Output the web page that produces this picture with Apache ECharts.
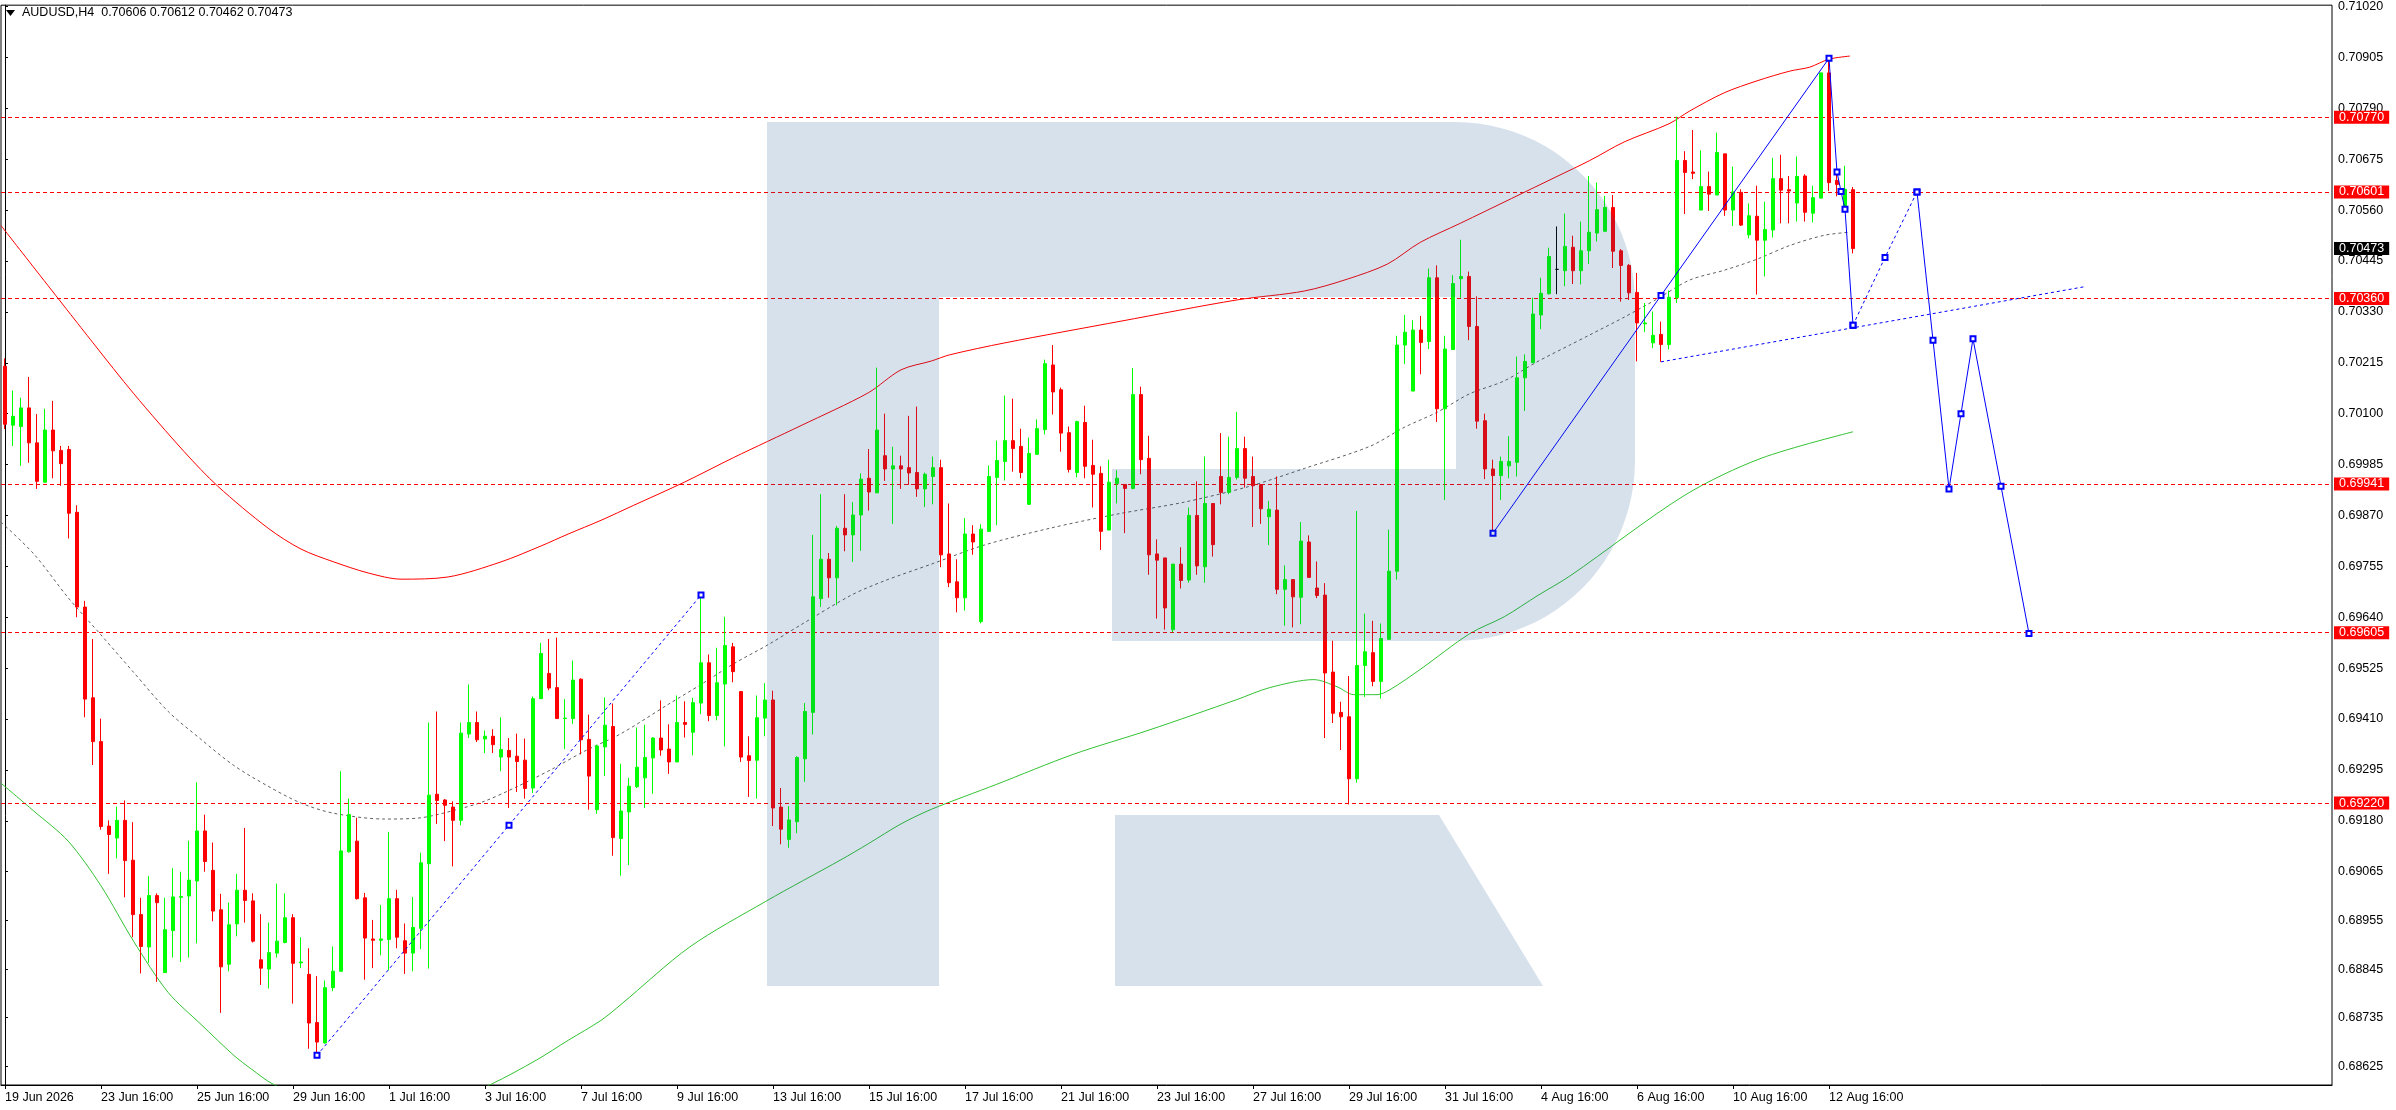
<!DOCTYPE html>
<html><head><meta charset="utf-8">
<script src="https://cdn.jsdelivr.net/npm/echarts@6/dist/echarts.min.js"></script>
<style>html,body{margin:0;padding:0;background:#fff;overflow:hidden}#c{width:2396px;height:1110px}</style>
</head><body><div id="c"></div>
<script>
const FONT = '"Liberation Sans", Arial, sans-serif';
const symbolName = 'AUDUSD,H4';

const open = [
0.70207,0.70074,0.70071,0.70113,0.70034,0.69945,0.70063,0.70017,0.70019,0.69877,
0.69663,0.69458,0.69359,0.69168,0.69141,0.69181,0.69091,0.68968,0.68895,0.69011,
0.68837,0.68932,0.69007,0.69010,0.69044,0.69157,0.69068,0.68979,0.68856,0.68947,
0.69023,0.68999,0.68866,0.68845,0.68881,0.68905,0.68961,0.68859,0.68833,0.68724,
0.68678,0.68803,0.68840,0.69110,0.69134,0.69006,0.68913,0.68910,0.68912,0.69004,
0.68909,0.68881,0.68937,0.69083,0.69240,0.69227,0.69211,0.69181,0.69376,0.69402,
0.69365,0.69371,0.69324,0.69339,0.69326,0.69317,0.69254,0.69456,0.69513,0.69481,
0.69411,0.69411,0.69500,0.69364,0.69205,0.69347,0.69393,0.69140,0.69200,0.69257,
0.69277,0.69322,0.69367,0.69342,0.69313,0.69402,0.69380,0.69446,0.69537,0.69418,
0.69489,0.69573,0.69472,0.69327,0.69317,0.69412,0.69453,0.69211,0.69138,0.69178,
0.69320,0.69425,0.69682,0.69771,0.69729,0.69841,0.69826,0.69871,0.69954,0.69921,
0.70005,0.69975,0.69982,0.69978,0.69967,0.69930,0.69958,0.69978,0.69783,0.69720,
0.69684,0.69828,0.69630,0.69834,0.69956,0.69992,0.70039,0.70026,0.69895,0.70008,
0.70064,0.70210,0.70154,0.70057,0.69967,0.70080,0.69983,0.69965,0.69837,0.69942,
0.69940,0.69931,0.70143,0.69999,0.69783,0.69774,0.69612,0.69760,0.69724,0.69870,
0.69754,0.69897,0.69958,0.69922,0.69956,0.70021,0.69958,0.69940,0.69867,0.69882,
0.69703,0.69725,0.69685,0.69810,0.69706,0.69690,0.69516,0.69425,0.69415,0.69275,
0.69531,0.69560,0.69495,0.69590,0.69744,0.70255,0.70151,0.70289,0.70263,0.70407,
0.70111,0.70245,0.70405,0.70410,0.70297,0.70084,0.69975,0.69960,0.69982,0.69990,
0.70181,0.70215,0.70323,0.70371,0.70426,0.70423,0.70476,0.70423,0.70468,0.70508,
0.70512,0.70566,0.70468,0.70435,0.70374,0.70303,0.70260,0.70279,0.70256,0.70362,
0.70672,0.70646,0.70560,0.70613,0.70594,0.70687,0.70560,0.70600,0.70504,0.70546,
0.70492,0.70515,0.70631,0.70606,0.70576,0.70637,0.70553,0.70587,0.70870,0.70627,
0.70566,0.70606];

const high = [
0.70225,0.70152,0.70136,0.70183,0.70099,0.70111,0.70129,0.70027,0.70027,0.69893,
0.69677,0.69591,0.69411,0.69181,0.69212,0.69226,0.69177,0.69006,0.69055,0.69016,
0.69006,0.69073,0.69065,0.69135,0.69267,0.69194,0.69131,0.69015,0.68995,0.69060,
0.69164,0.69016,0.68969,0.68950,0.69038,0.69016,0.68969,0.68917,0.68892,0.68829,
0.68819,0.68896,0.69292,0.69230,0.69187,0.69017,0.68956,0.68990,0.69155,0.69024,
0.68948,0.69008,0.69108,0.69402,0.69427,0.69229,0.69224,0.69402,0.69488,0.69427,
0.69384,0.69387,0.69414,0.69367,0.69377,0.69366,0.69461,0.69582,0.69591,0.69594,
0.69455,0.69542,0.69502,0.69420,0.69352,0.69459,0.69445,0.69309,0.69277,0.69391,
0.69397,0.69369,0.69452,0.69398,0.69463,0.69450,0.69458,0.69684,0.69556,0.69571,
0.69641,0.69582,0.69472,0.69371,0.69463,0.69491,0.69474,0.69254,0.69213,0.69326,
0.69446,0.69826,0.69918,0.69785,0.69846,0.69918,0.69900,0.69965,0.70020,0.70204,
0.70100,0.70025,0.70005,0.70095,0.70116,0.69967,0.70003,0.69996,0.69897,0.69771,
0.69864,0.69848,0.69850,0.69983,0.70039,0.70141,0.70134,0.70066,0.70046,0.70087,
0.70222,0.70255,0.70159,0.70071,0.70084,0.70118,0.70041,0.69981,0.69996,0.69972,
0.69940,0.70203,0.70161,0.70050,0.69816,0.69774,0.69760,0.69798,0.69888,0.69947,
0.70003,0.69897,0.70056,0.70048,0.70104,0.70048,0.70003,0.69940,0.69903,0.69958,
0.69757,0.69725,0.69855,0.69825,0.69766,0.69717,0.69587,0.69449,0.69507,0.69880,
0.69648,0.69632,0.69626,0.69838,0.70276,0.70323,0.70311,0.70321,0.70428,0.70435,
0.70276,0.70413,0.70493,0.70421,0.70365,0.70100,0.69996,0.70003,0.70049,0.70229,
0.70234,0.70362,0.70407,0.70475,0.70523,0.70552,0.70502,0.70534,0.70637,0.70622,
0.70592,0.70594,0.70472,0.70438,0.70418,0.70350,0.70331,0.70308,0.70378,0.70771,
0.70693,0.70741,0.70695,0.70647,0.70735,0.70687,0.70658,0.70607,0.70575,0.70615,
0.70579,0.70678,0.70685,0.70637,0.70681,0.70641,0.70615,0.70870,0.70903,0.70648,
0.70660,0.70612];

const low = [
0.70065,0.70027,0.69982,0.69989,0.69930,0.69945,0.69954,0.69937,0.69818,0.69640,
0.69414,0.69306,0.69160,0.69060,0.69095,0.69007,0.68917,0.68835,0.68859,0.68816,
0.68837,0.68871,0.68861,0.68871,0.68903,0.69065,0.68953,0.68746,0.68840,0.68919,
0.68950,0.68905,0.68809,0.68801,0.68871,0.68903,0.68767,0.68847,0.68665,0.68646,
0.68677,0.68795,0.68840,0.69108,0.69002,0.68821,0.68847,0.68876,0.68842,0.68892,
0.68834,0.68840,0.68890,0.68846,0.69173,0.69134,0.69077,0.69170,0.69367,0.69358,
0.69333,0.69333,0.69292,0.69209,0.69245,0.69230,0.69243,0.69456,0.69475,0.69411,
0.69342,0.69399,0.69330,0.69205,0.69196,0.69281,0.69101,0.69056,0.69080,0.69254,
0.69209,0.69241,0.69327,0.69286,0.69313,0.69368,0.69328,0.69421,0.69405,0.69407,
0.69348,0.69493,0.69313,0.69234,0.69230,0.69371,0.69168,0.69127,0.69119,0.69152,
0.69268,0.69375,0.69663,0.69684,0.69667,0.69789,0.69765,0.69790,0.69881,0.69921,
0.69948,0.69851,0.69930,0.69939,0.69912,0.69889,0.69895,0.69753,0.69708,0.69651,
0.69655,0.69781,0.69626,0.69834,0.69848,0.69949,0.69969,0.69954,0.69895,0.70008,
0.70053,0.70098,0.70014,0.69967,0.69956,0.69954,0.69888,0.69792,0.69837,0.69897,
0.69830,0.69929,0.69963,0.69736,0.69637,0.69612,0.69606,0.69705,0.69718,0.69736,
0.69718,0.69777,0.69895,0.69918,0.69951,0.69933,0.69844,0.69851,0.69803,0.69692,
0.69621,0.69617,0.69624,0.69730,0.69683,0.69367,0.69401,0.69340,0.69217,0.69266,
0.69460,0.69484,0.69456,0.69590,0.69725,0.70212,0.70151,0.70189,0.70246,0.70081,
0.69905,0.70245,0.70362,0.70266,0.70066,0.69952,0.69830,0.69905,0.69954,0.69958,
0.70106,0.70215,0.70291,0.70369,0.70370,0.70388,0.70393,0.70392,0.70438,0.70489,
0.70512,0.70429,0.70353,0.70357,0.70218,0.70284,0.70248,0.70217,0.70245,0.70350,
0.70551,0.70630,0.70560,0.70558,0.70594,0.70547,0.70524,0.70524,0.70496,0.70369,
0.70410,0.70498,0.70530,0.70530,0.70534,0.70534,0.70532,0.70587,0.70603,0.70591,
0.70566,0.70462];

const close = [
0.70076,0.70094,0.70113,0.70034,0.69947,0.70063,0.70016,0.69987,0.69875,0.69663,
0.69455,0.69359,0.69167,0.69149,0.69181,0.69090,0.68968,0.68896,0.69011,0.68995,
0.68934,0.69008,0.69009,0.69046,0.69157,0.69088,0.68976,0.68850,0.68945,0.69023,
0.69000,0.68908,0.68847,0.68882,0.68908,0.68961,0.68858,0.68861,0.68723,0.68680,
0.68803,0.68840,0.69112,0.69194,0.69004,0.68915,0.68910,0.68913,0.69004,0.68917,
0.68881,0.68939,0.69085,0.69238,0.69226,0.69215,0.69181,0.69378,0.69402,0.69363,
0.69371,0.69352,0.69341,0.69324,0.69314,0.69253,0.69456,0.69558,0.69480,0.69411,
0.69412,0.69498,0.69363,0.69281,0.69349,0.69396,0.69142,0.69202,0.69258,0.69301,
0.69323,0.69367,0.69340,0.69313,0.69402,0.69398,0.69447,0.69537,0.69418,0.69492,
0.69576,0.69517,0.69324,0.69316,0.69413,0.69453,0.69209,0.69161,0.69182,0.69323,
0.69427,0.69686,0.69771,0.69729,0.69841,0.69826,0.69871,0.69952,0.69923,0.70063,
0.69975,0.69982,0.69975,0.69966,0.69930,0.69963,0.69978,0.69781,0.69718,0.69684,
0.69828,0.69810,0.69839,0.69958,0.69994,0.70039,0.70021,0.69967,0.70010,0.70066,
0.70213,0.70149,0.70056,0.69974,0.70082,0.69981,0.69963,0.69834,0.69945,0.69954,
0.69931,0.70143,0.69996,0.69781,0.69769,0.69661,0.69760,0.69723,0.69870,0.69756,
0.69897,0.69804,0.69922,0.69956,0.70021,0.69954,0.69937,0.69885,0.69884,0.69703,
0.69725,0.69686,0.69812,0.69730,0.69689,0.69514,0.69423,0.69415,0.69275,0.69531,
0.69562,0.69495,0.69592,0.69744,0.70255,0.70284,0.70289,0.70261,0.70407,0.70111,
0.70246,0.70394,0.70410,0.70297,0.70083,0.69975,0.69960,0.69992,0.69992,0.70181,
0.70218,0.70325,0.70372,0.70455,0.70426,0.70478,0.70423,0.70468,0.70510,0.70561,
0.70566,0.70467,0.70435,0.70373,0.70305,0.70305,0.70277,0.70256,0.70363,0.70672,
0.70645,0.70643,0.70613,0.70596,0.70690,0.70560,0.70601,0.70526,0.70547,0.70492,
0.70516,0.70631,0.70605,0.70603,0.70636,0.70555,0.70588,0.70870,0.70622,0.70618,
0.70607,0.70473];

// indicator curves: [bar index, price]
const upperBand = [[-0.5,0.70525],[11,0.70260],[16.1,0.70145],[22.4,0.70014],[26.6,0.69936],[32.9,0.69841],[37,0.69794],[41.1,0.69765],[45.4,0.69740],[49.5,0.69726],[55.4,0.69731],[62,0.69765],[67,0.69801],[70.4,0.69828],[74.5,0.69859],[78.6,0.69893],[84.9,0.69945],[91.1,0.70001],[99.5,0.70073],[107.9,0.70147],[112,0.70199],[115.8,0.70219],[118.1,0.70233],[125,0.70260],[139.5,0.70309],[154,0.70357],[162.4,0.70377],[167.8,0.70404],[172.8,0.70438],[176.9,0.70487],[181.9,0.70530],[188.3,0.70586],[194,0.70636],[198.1,0.70672],[202.4,0.70714],[208,0.70755],[210.6,0.70784],[214.9,0.70825],[219,0.70852],[223.1,0.70874],[225.6,0.70883],[228,0.70901],[230.6,0.70908]];
const middleBand = [[-0.5,0.69855],[3.6,0.69783],[7.9,0.69684],[12,0.69600],[16.1,0.69515],[20.4,0.69427],[24.5,0.69364],[28.6,0.69305],[32.9,0.69258],[37,0.69220],[41.1,0.69197],[47.4,0.69184],[51.6,0.69186],[55.8,0.69202],[59.9,0.69224],[64.1,0.69258],[68.3,0.69296],[72.4,0.69337],[77,0.69377],[82.9,0.69443],[87,0.69488],[91.1,0.69535],[95.4,0.69578],[99.5,0.69623],[105.8,0.69690],[109.9,0.69722],[115.8,0.69760],[122.4,0.69803],[130.6,0.69841],[139,0.69873],[147.4,0.69900],[155.6,0.69936],[162.4,0.69976],[170.6,0.70026],[174.9,0.70069],[179,0.70103],[183.1,0.70145],[187.4,0.70174],[191.5,0.70217],[195.6,0.70255],[198.1,0.70278],[202.4,0.70318],[206.5,0.70359],[210.6,0.70402],[214.9,0.70424],[219,0.70449],[223.1,0.70480],[227.4,0.70503],[230.6,0.70510]];
const lowerBand = [[-0.5,0.69265],[3.6,0.69202],[7.9,0.69134],[12,0.69033],[16.1,0.68907],[20.4,0.68792],[24.5,0.68720],[28.6,0.68650],[30.8,0.68619],[33.5,0.68585],[40.8,0.68527],[47,0.68509],[53.3,0.68527],[60.8,0.68585],[66.4,0.68639],[70.4,0.68684],[74.5,0.68729],[77,0.68765],[85.6,0.68895],[95.1,0.68998],[104.5,0.69092],[107.9,0.69128],[112,0.69173],[115.8,0.69206],[123.9,0.69262],[133.5,0.69330],[143,0.69385],[154,0.69454],[158.1,0.69481],[163.6,0.69499],[166.5,0.69483],[168.6,0.69465],[171.5,0.69465],[173.1,0.69476],[176.9,0.69522],[183.1,0.69603],[187.4,0.69641],[191.5,0.69688],[195.6,0.69733],[210,0.69916],[219.5,0.69999],[231,0.70059]];

// drawn analysis objects: bar index / price
const trendAX = [39, 63, 87];
const trendAY = [0.68650, 0.69170, 0.69690];
const waveX = [186, 207, 228, 229, 229.5, 230, 231];
const waveY = [0.69830, 0.70367, 0.70903, 0.70646, 0.70602, 0.70562, 0.70300];
const supportX = [207, 260];
const supportY = [0.70217, 0.70387];
const pathDashX = [231, 235, 239];
const pathDashY = [0.70300, 0.70453, 0.70601];
const pathX = [239, 241, 243, 244.5, 246, 249.5, 253];
const pathY = [0.70601, 0.70266, 0.69930, 0.70100, 0.70269, 0.69936, 0.69603];

const levels = [0.70770, 0.70601, 0.70360, 0.69941, 0.69605, 0.69220];
const lastPrice = 0.70473;

const xTickLabels = ['19 Jun 2026','23 Jun 16:00','25 Jun 16:00','29 Jun 16:00','1 Jul 16:00','3 Jul 16:00','7 Jul 16:00','9 Jul 16:00','13 Jul 16:00','15 Jul 16:00','17 Jul 16:00','21 Jul 16:00','23 Jul 16:00','27 Jul 16:00','29 Jul 16:00','31 Jul 16:00','4 Aug 16:00','6 Aug 16:00','10 Aug 16:00','12 Aug 16:00'];
const xTickStep = 12;
const yTickLabels = ['0.71020','0.70905','0.70790','0.70675','0.70560','0.70445','0.70330','0.70215','0.70100','0.69985','0.69870','0.69755','0.69640','0.69525','0.69410','0.69295','0.69180','0.69065','0.68955','0.68845','0.68735','0.68625'];

const xTickIdx = xTickLabels.map((_, k) => k * xTickStep);
const yTickVals = yTickLabels.map(Number);
const pairs = (xs, ys) => xs.map((x, k) => [x, ys[k]]);

const candleData = open.map((o, i) => {
  const v = [i, o, close[i], low[i], high[i]];
  if (o === close[i]) return { value: v, itemStyle: { color: '#000', color0: '#000', borderColor: '#000', borderColor0: '#000' } };
  return v;
});

const last = open.length - 1;
const titleText = symbolName + '  ' + [open[last], high[last], low[last], close[last]].map(v => v.toFixed(5)).join(' ');

// decorative watermark (logo) outline in screen pixels
function arcPts(cx, cy, r, a0, a1, n) {
  const out = [];
  for (let k = 0; k <= n; k++) { const a = a0 + (a1 - a0) * k / n; out.push([cx + r * Math.cos(a), cy + r * Math.sin(a)]); }
  return out;
}
const logoBody = [[767, 122], [1455, 122]]
  .concat(arcPts(1455, 302, 180, -Math.PI / 2, 0, 24))
  .concat([[1635, 461]])
  .concat(arcPts(1455, 461, 180, 0, Math.PI / 2, 24))
  .concat([[1112, 641], [1112, 469], [1456, 469], [1456, 297], [939, 297], [939, 986], [767, 986]]);
const logoLeg = [[1115, 815], [1439, 815], [1543, 986], [1115, 986]];
const WM = 'rgba(20,80,140,0.17)';

const boxLabel = (bg) => ({
  show: true, position: 'end', distance: 2,
  formatter: p => Number(p.value).toFixed(5),
  color: '#fff', backgroundColor: bg, padding: [1, 5, 0, 5],
  fontSize: 12.5, fontFamily: FONT, lineHeight: 12
});

const blueLine = (data, dashed, markers) => ({
  type: 'line', data, silent: true, z: 6,
  symbol: markers ? 'emptyRect' : 'none', symbolSize: 5, showSymbol: !!markers,
  itemStyle: { color: '#0000ff', borderWidth: 1 },
  lineStyle: { color: '#0000ff', width: 1, type: dashed ? [3, 3] : 'solid' }
});

const chart = echarts.init(document.getElementById('c'), null, { renderer: 'canvas' });
chart.setOption({
  animation: false,
  backgroundColor: '#fff',
  grid: { left: 1, right: 64, top: 1, bottom: 25, show: true, borderColor: '#000', borderWidth: 1, backgroundColor: '#fff' },
  xAxis: {
    type: 'value', min: -0.5, max: 290.875,
    splitLine: { show: false },
    axisLine: { show: true, lineStyle: { color: '#000', width: 1 } },
    axisTick: { show: true, length: 4, customValues: xTickIdx, lineStyle: { color: '#000' } },
    axisLabel: {
      customValues: xTickIdx, formatter: v => xTickLabels[Math.round(v / xTickStep)] || '',
      align: 'left', margin: 6, color: '#000', fontSize: 12.5, fontFamily: FONT
    }
  },
  yAxis: {
    type: 'value', position: 'right', min: 0.68583, max: 0.71023, scale: true,
    splitLine: { show: false },
    axisLine: { show: true, lineStyle: { color: '#000', width: 1 } },
    axisTick: { show: true, length: 3, customValues: yTickVals, lineStyle: { color: '#000' } },
    axisLabel: { customValues: yTickVals, formatter: v => Number(v).toFixed(5), margin: 6, color: '#000', fontSize: 12.5, fontFamily: FONT }
  },
  series: [
    { type: 'line', data: upperBand, smooth: 0.3, symbol: 'none', silent: true, z: 3, lineStyle: { color: '#ff0000', width: 1 } },
    { type: 'line', data: middleBand, smooth: 0.3, symbol: 'none', silent: true, z: 3, lineStyle: { color: '#606060', width: 1, type: [3, 3] } },
    { type: 'line', data: lowerBand, smooth: 0.3, symbol: 'none', silent: true, z: 3, lineStyle: { color: '#33c233', width: 1 } },
    {
      type: 'candlestick', data: candleData, barWidth: 4, silent: true, z: 5,
      itemStyle: { color: '#00ff00', color0: '#ff0000', borderColor: '#00ff00', borderColor0: '#ff0000', borderWidth: 1 },
      markLine: {
        silent: true, symbol: ['none', 'none'], animation: false, precision: 5,
        data: levels.map(v => ({ yAxis: v, lineStyle: { color: '#ff0000', width: 1, type: [4, 3] }, label: boxLabel('#ff0000') }))
          .concat([{ yAxis: lastPrice, lineStyle: { color: 'rgba(0,0,0,0)', width: 1 }, label: boxLabel('#000000') }])
      }
    },
    blueLine(pairs(trendAX, trendAY), true, true),
    blueLine(pairs(waveX, waveY), false, true),
    blueLine(pairs(supportX, supportY), true, false),
    blueLine(pairs(pathDashX, pathDashY), true, true),
    blueLine(pairs(pathX, pathY), false, true)
  ],
  graphic: [
    { type: 'polygon', shape: { points: [[6, 10], [15, 10], [10.5, 16]] }, style: { fill: '#000' }, z: 110 },
    { type: 'text', x: 22, y: 6, style: { text: titleText, font: '12.5px ' + FONT, fill: '#000' }, z: 110 },
    { type: 'polygon', silent: true, z: 100, shape: { points: logoBody }, style: { fill: WM } },
    { type: 'polygon', silent: true, z: 100, shape: { points: logoLeg }, style: { fill: WM } }
  ]
});
</script>
</body></html>
